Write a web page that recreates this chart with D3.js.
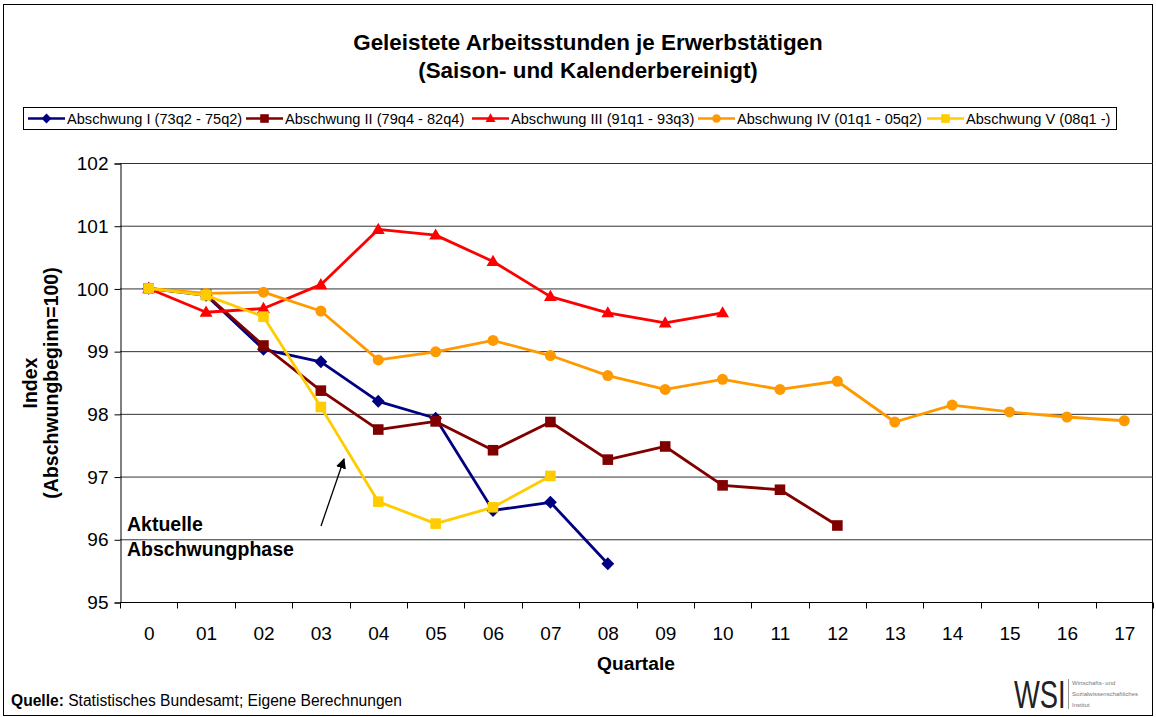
<!DOCTYPE html>
<html><head><meta charset="utf-8">
<script src="https://cdn.jsdelivr.net/npm/d3@7"></script>
<style>body{margin:0;background:#fff}svg{display:block;font-family:"Liberation Sans",Arial,sans-serif}</style>
</head><body><svg id="c" width="1156" height="717"></svg>
<script>
const categories = ["0","01","02","03","04","05","06","07","08","09","10","11","12","13","14","15","16","17"];
const yTicks = [95,96,97,98,99,100,101,102];
const seriesNames = ["Abschwung I (73q2 - 75q2)","Abschwung II (79q4 - 82q4)","Abschwung III (91q1 - 93q3)","Abschwung IV (01q1 - 05q2)","Abschwung V (08q1 -)"];
const abschwungI   = [100, 99.89, 99.03, 98.83, 98.20, 97.93, 96.46, 96.59, 95.61];
const abschwungII  = [100, 99.90, 99.09, 98.37, 97.75, 97.88, 97.42, 97.87, 97.27, 97.48, 96.86, 96.79, 96.22];
const abschwungIII = [100, 99.62, 99.68, 100.06, 100.94, 100.85, 100.43, 99.87, 99.61, 99.45, 99.61];
const abschwungIV  = [100, 99.92, 99.94, 99.64, 98.86, 98.99, 99.17, 98.93, 98.61, 98.39, 98.55, 98.39, 98.52, 97.87, 98.14, 98.03, 97.95, 97.89];
const abschwungV   = [100, 99.89, 99.55, 98.11, 96.60, 96.25, 96.51, 97.01];

const colors = ["#000080","#800000","#FF0000","#FF9900","#FFCC00"];
const allSeries = [abschwungI, abschwungII, abschwungIII, abschwungIV, abschwungV];

function markerPath(k, r){
  if(k===0) return `M0,${-r*1.15}L${r*1.15},0L0,${r*1.15}L${-r*1.15},0Z`;
  if(k===1||k===4) return `M${-r},${-r}H${r}V${r}H${-r}Z`;
  if(k===2) return `M0,${-r*1.2}L${r*1.15},${r*0.8}H${-r*1.15}Z`;
  return d3.arc()({innerRadius:0,outerRadius:r,startAngle:0,endAngle:2*Math.PI});
}
const mR = [5.6, 5.3, 5.6, 5.5, 5.3];

const svg = d3.select("#c");
const M = {left:120, right:1153, top:163, bottom:602};

svg.append("rect").attr("x",3.5).attr("y",4.5).attr("width",1149).attr("height",711)
  .attr("fill","none").attr("stroke","#000").attr("stroke-width",1);

svg.append("text").attr("x",588).attr("y",50).attr("text-anchor","middle")
  .attr("font-size",22.4).attr("font-weight","bold").text("Geleistete Arbeitsstunden je Erwerbstätigen");
svg.append("text").attr("x",588).attr("y",78).attr("text-anchor","middle")
  .attr("font-size",22.4).attr("font-weight","bold").text("(Saison- und Kalenderbereinigt)");

const x = d3.scalePoint().domain(categories).range([M.left, M.right]).padding(0.5);
const y = d3.scaleLinear().domain([95,102]).range([M.bottom, M.top]);
const step = x.step();

svg.append("g").selectAll("line").data(yTicks.filter(t=>t>95)).join("line")
  .attr("x1",M.left).attr("x2",M.right).attr("y1",d=>y(d)+0.5).attr("y2",d=>y(d)+0.5)
  .attr("stroke","#333").attr("stroke-width",1);

const yAxis = svg.append("g").attr("transform",`translate(${M.left+0.5},0.5)`)
  .call(d3.axisLeft(y).tickValues(yTicks).tickSize(6).tickPadding(6).tickFormat(d3.format("d")));
yAxis.select(".domain").attr("stroke","#000");
yAxis.selectAll("text").attr("font-size",19).attr("fill","#000").attr("font-family","Liberation Sans, Arial");

const xAxis = svg.append("g").attr("transform",`translate(0,${M.bottom+0.5})`)
  .call(d3.axisBottom(x).tickSize(0).tickPadding(24));
xAxis.select(".domain").attr("d",`M${M.left},0H${M.right}`).attr("stroke","#000");
xAxis.selectAll("text").attr("font-size",19).attr("fill","#000").attr("font-family","Liberation Sans, Arial");
xAxis.selectAll("line.bnd").data(d3.range(categories.length+1)).join("line").attr("class","bnd")
  .attr("x1",i=>Math.round(M.left+i*step)+0.5).attr("x2",i=>Math.round(M.left+i*step)+0.5)
  .attr("y1",0).attr("y2",6).attr("stroke","#000");

svg.append("text").attr("transform","translate(37,383) rotate(-90)").attr("text-anchor","middle")
  .attr("font-size",19.5).attr("font-weight","bold").text("Index");
svg.append("text").attr("transform","translate(58,383) rotate(-90)").attr("text-anchor","middle")
  .attr("font-size",19.5).attr("font-weight","bold").text("(Abschwungbeginn=100)");
svg.append("text").attr("x",636).attr("y",670).attr("text-anchor","middle")
  .attr("font-size",19.2).attr("font-weight","bold").text("Quartale");

const line = d3.line().x((d,i)=>x(categories[i])).y(d=>y(d));
allSeries.forEach((s,k)=>{
  const g = svg.append("g");
  g.append("path").datum(s).attr("d",line).attr("fill","none")
    .attr("stroke",colors[k]).attr("stroke-width",2.8).attr("stroke-linejoin","round");
  g.selectAll("path.m").data(s).join("path").attr("class","m")
    .attr("transform",(d,i)=>`translate(${x(categories[i])},${y(d)})`)
    .attr("d",markerPath(k,mR[k])).attr("fill",colors[k]);
});

svg.append("text").attr("x",127).attr("y",531).attr("font-size",19.5).attr("font-weight","bold").text("Aktuelle");
svg.append("text").attr("x",127).attr("y",556).attr("font-size",19.5).attr("font-weight","bold").text("Abschwungphase");
svg.append("defs").append("marker").attr("id","ah").attr("viewBox","0 0 10 10").attr("refX",9).attr("refY",5)
  .attr("markerWidth",8).attr("markerHeight",8).attr("orient","auto")
  .append("path").attr("d","M0,0L10,5L0,10z").attr("fill","#000");
svg.append("line").attr("x1",321).attr("y1",526).attr("x2",344).attr("y2",459)
  .attr("stroke","#000").attr("stroke-width",1.3).attr("marker-end","url(#ah)");

const legX = [28, 246, 472, 698, 927];
const leg = svg.append("g");
leg.append("rect").attr("x",23.5).attr("y",107.5).attr("width",1093).attr("height",22)
  .attr("fill","#fff").attr("stroke","#000");
seriesNames.forEach((n,k)=>{
  const g = leg.append("g").attr("transform",`translate(${legX[k]},118.5)`);
  g.append("line").attr("x1",0).attr("x2",37).attr("stroke",colors[k]).attr("stroke-width",2.6);
  g.append("path").attr("transform","translate(18.5,0)").attr("d",markerPath(k,4.3)).attr("fill",colors[k]);
  g.append("text").attr("x",39).attr("y",5.5).attr("font-size",14.6).text(n);
});

const src = svg.append("text").attr("x",11).attr("y",706).attr("font-size",15.6);
src.append("tspan").attr("font-weight","bold").text("Quelle:");
src.append("tspan").text(" Statistisches Bundesamt; Eigene Berechnungen");

// WSI logo
svg.append("g").attr("transform","translate(1014,708) scale(0.72,1)")
  .append("text").attr("x",0).attr("y",0).attr("font-size",38).attr("fill","#222").text("WSI");
svg.append("line").attr("x1",1068.5).attr("x2",1068.5).attr("y1",679).attr("y2",709).attr("stroke","#999");
["Wirtschafts- und","Sozialwissenschaftliches","Institut"].forEach((t,i)=>{
  svg.append("text").attr("x",1072).attr("y",685+i*11).attr("font-size",6).attr("fill","#777").text(t);
});
</script></body></html>
